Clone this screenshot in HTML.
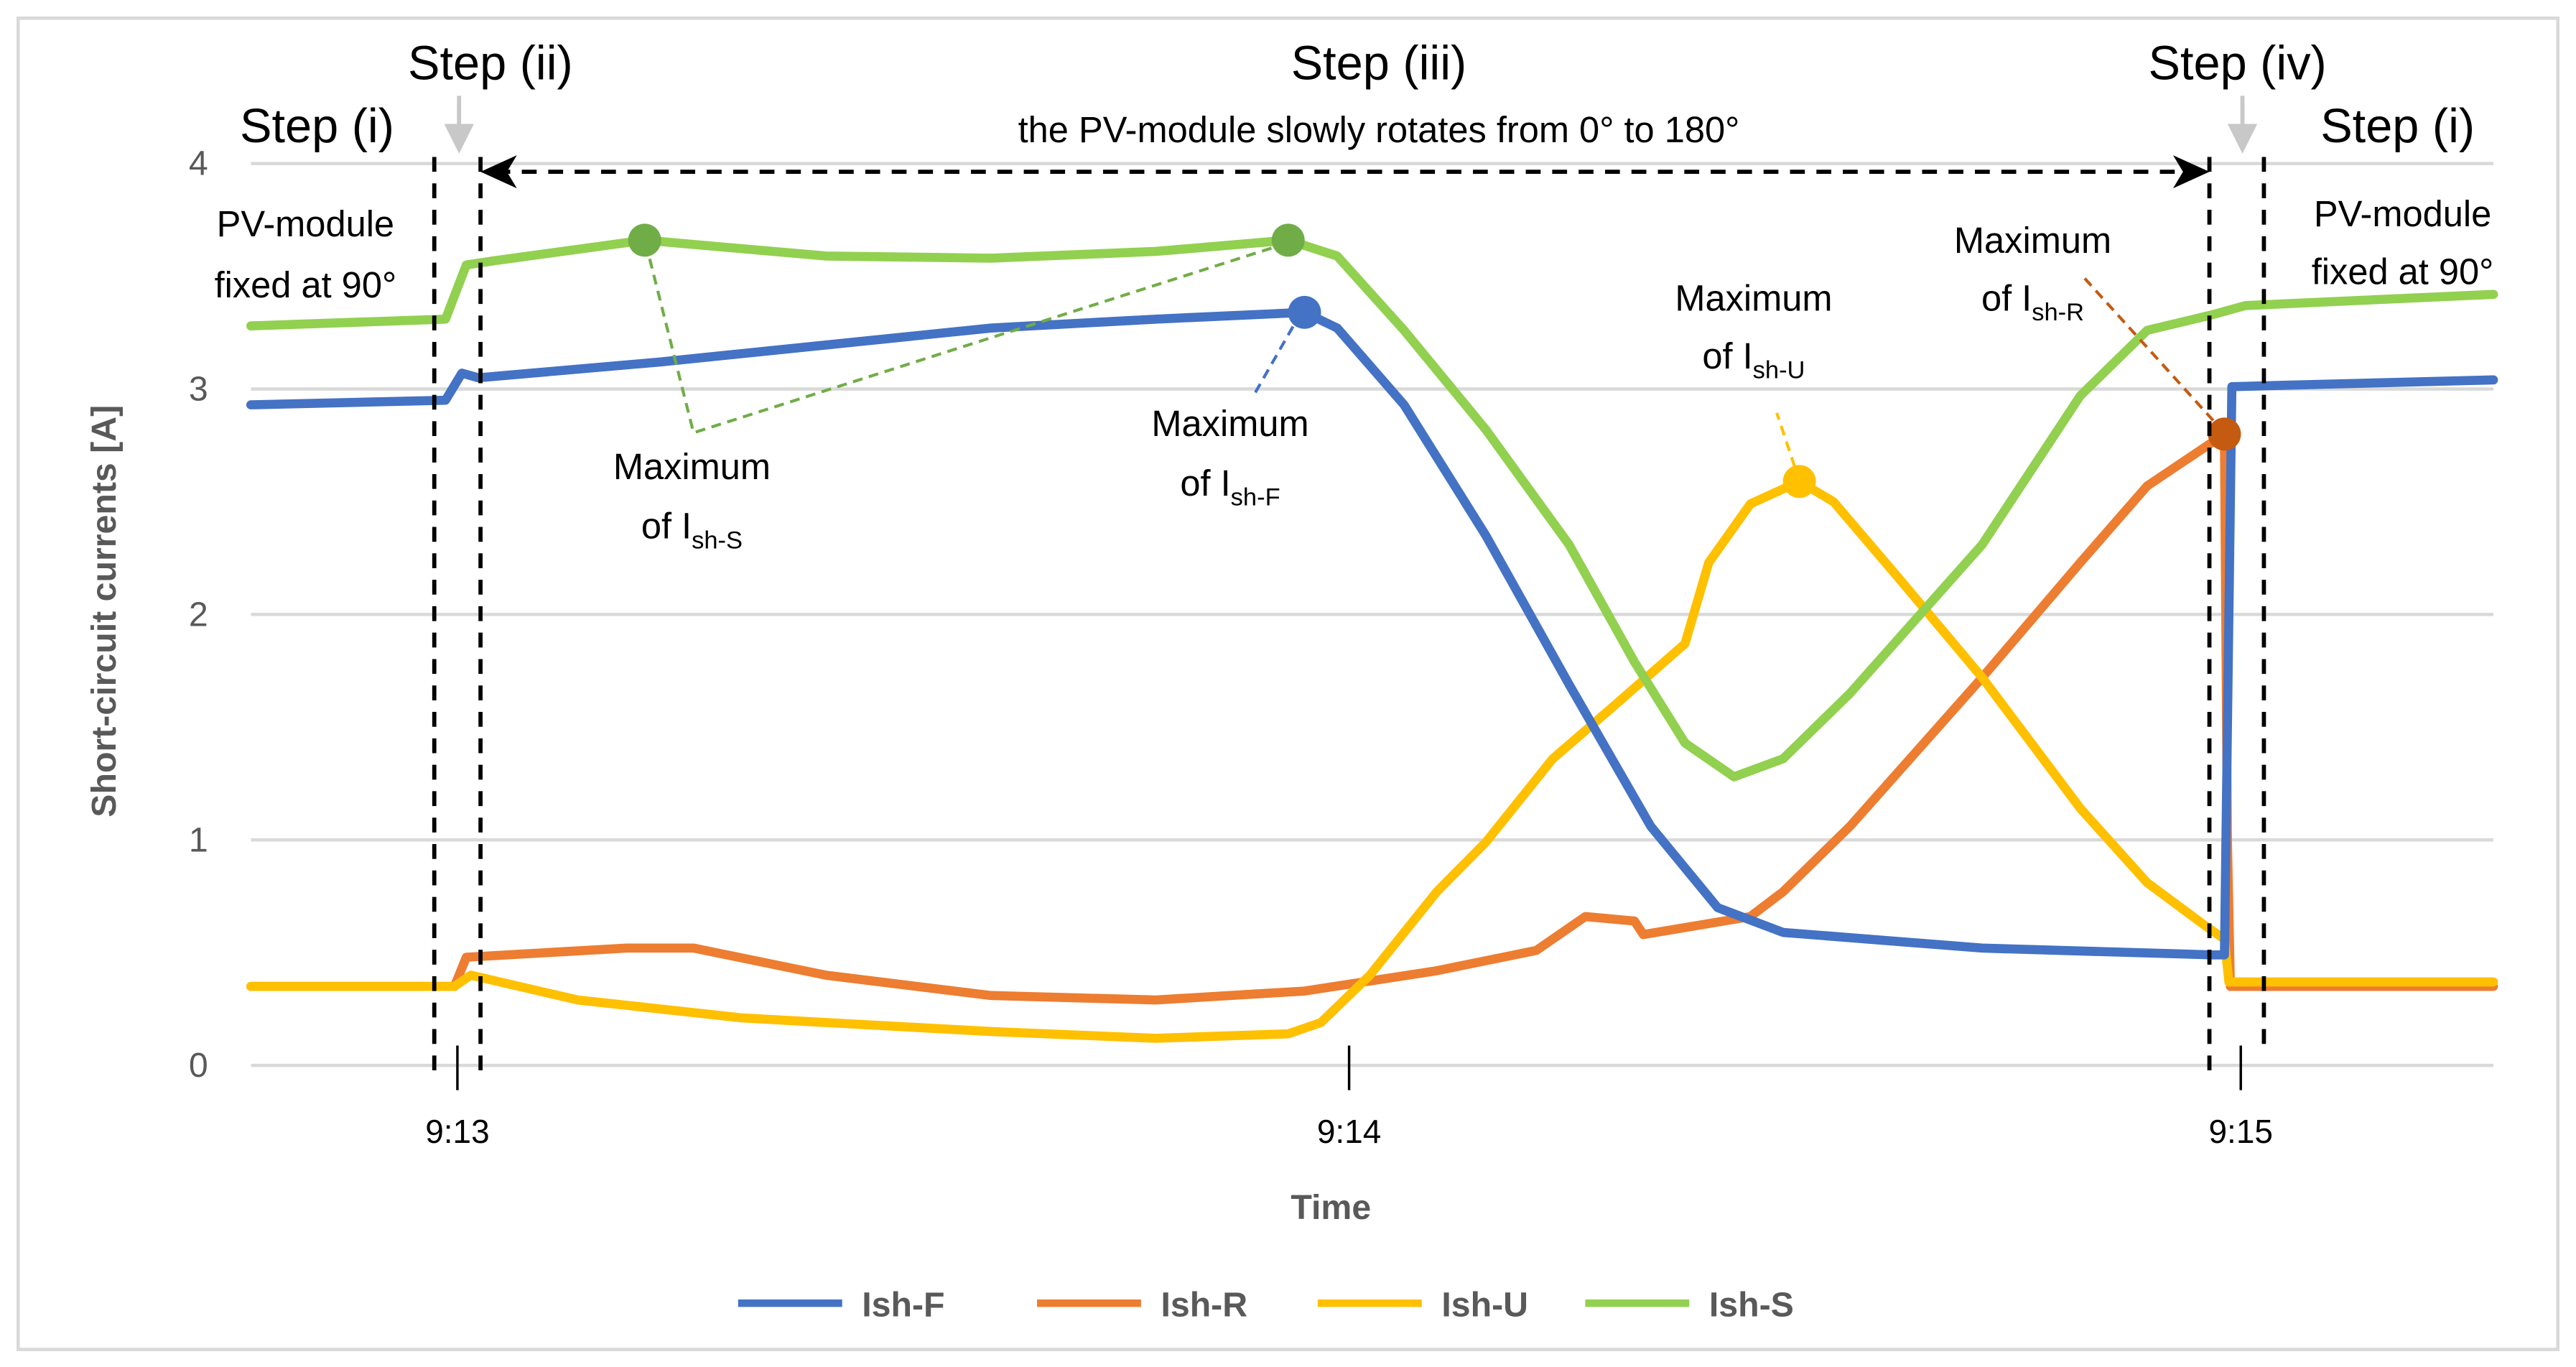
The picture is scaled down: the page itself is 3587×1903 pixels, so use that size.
<!DOCTYPE html>
<html><head><meta charset="utf-8"><style>
html,body{margin:0;padding:0;background:#fff;}
svg{display:block;font-family:"Liberation Sans",sans-serif;}
</style></head><body>
<svg id="chart" width="3587" height="1903" viewBox="0 0 1560 827.6" xmlns="http://www.w3.org/2000/svg">
<rect x="11" y="11" width="1538" height="806" fill="#fff" stroke="#d9d9d9" stroke-width="2"/>
<g id="grid"></g>
<g id="yticks" font-size="21" fill="#595959" text-anchor="end"></g>
<g id="xticks" font-size="20" fill="#000" text-anchor="middle"></g>
<text transform="translate(70,370) rotate(-90)" text-anchor="middle" font-size="21" font-weight="bold" fill="#595959">Short-circuit currents [A]</text>
<text x="806" y="738" text-anchor="middle" font-size="21" font-weight="bold" fill="#595959">Time</text>
<g id="series"></g>
<g id="annot" font-size="22" fill="#000" text-anchor="middle">
 <line x1="263" y1="95" x2="263" y2="652" stroke="#000" stroke-width="2.5" stroke-dasharray="9,7"/>
 <line x1="291" y1="95" x2="291" y2="652" stroke="#000" stroke-width="2.5" stroke-dasharray="9,7"/>
 <line x1="1338" y1="95" x2="1338" y2="652" stroke="#000" stroke-width="2.5" stroke-dasharray="9,7"/>
 <line x1="1371" y1="95" x2="1371" y2="632" stroke="#000" stroke-width="2.5" stroke-dasharray="9,7"/>
 <line x1="300" y1="104" x2="1330" y2="104" stroke="#000" stroke-width="2.5" stroke-dasharray="9,7"/>
 <polygon points="291,104 313,94 307,104 313,114" fill="#000"/>
 <polygon points="1338,104 1316,94 1322,104 1316,114" fill="#000"/>
 <line x1="278" y1="58" x2="278" y2="78" stroke="#c8c8c8" stroke-width="2.5"/>
 <polygon points="269,75 287,75 278,93" fill="#c8c8c8"/>
 <line x1="1358" y1="58" x2="1358" y2="78" stroke="#c8c8c8" stroke-width="2.5"/>
 <polygon points="1349,75 1367,75 1358,93" fill="#c8c8c8"/>
 <text x="192" y="86" font-size="29">Step (i)</text>
 <text x="297" y="48" font-size="29">Step (ii)</text>
 <text x="835" y="48" font-size="29">Step (iii)</text>
 <text x="835" y="86" font-size="22">the PV-module slowly rotates from 0° to 180°</text>
 <text x="1355" y="48" font-size="29">Step (iv)</text>
 <text x="1452" y="86" font-size="29">Step (i)</text>
 <text x="185" y="143">PV-module</text>
 <text x="185" y="180">fixed at 90°</text>
 <text x="1455" y="137">PV-module</text>
 <text x="1455" y="172">fixed at 90°</text>
 <polyline points="391,147 420,262 780,147" fill="none" stroke="#70ad47" stroke-width="1.8" stroke-dasharray="6,4"/>
 <text x="419" y="290">Maximum</text>
 <text x="419" y="326">of I<tspan font-size="15" dy="6">sh-S</tspan></text>
 <line x1="788" y1="189" x2="760" y2="238" stroke="#4472c4" stroke-width="1.8" stroke-dasharray="6,4"/>
 <text x="745" y="264">Maximum</text>
 <text x="745" y="300">of I<tspan font-size="15" dy="6">sh-F</tspan></text>
 <line x1="1090" y1="292" x2="1076" y2="250" stroke="#ffc000" stroke-width="1.8" stroke-dasharray="6,4"/>
 <text x="1062" y="188">Maximum</text>
 <text x="1062" y="223">of I<tspan font-size="15" dy="6">sh-U</tspan></text>
 <line x1="1347" y1="262" x2="1262" y2="168" stroke="#c55a11" stroke-width="1.8" stroke-dasharray="6,4"/>
 <text x="1231" y="153">Maximum</text>
 <text x="1231" y="188">of I<tspan font-size="15" dy="6">sh-R</tspan></text>
</g>
<g id="legend" font-size="21" font-weight="bold" fill="#595959"></g>
</svg>
<script>
// time in seconds relative to 9:13
var yTicks = [0, 1, 2, 3, 4];
var xTickTimes = [0, 60, 120];
var xTickLabels = ["9:13", "9:14", "9:15"];
var seriesNames = ["Ish-F", "Ish-R", "Ish-U", "Ish-S"];
var seriesColors = ["#4472c4", "#ed7d31", "#ffc000", "#92d050"];
var fT = [-13.9,-0.8,0.3,1.4,13.7,35.9,47,57,59.2,63.7,69.2,74.8,80.3,84.8,89.2,102.6,118.1,118.9,119.4,124.8,137];
var fV = [2.93,2.95,3.07,3.05,3.12,3.27,3.31,3.34,3.27,2.93,2.35,1.69,1.06,0.70,0.59,0.52,0.49,0.49,3.01,3.02,3.04];
var rT = [-13.9,-0.2,0.6,11.4,15.9,24.8,35.9,47,57,65.9,72.6,75.9,79.2,79.8,87,89.2,93.7,102.6,109.2,113.7,118.9,119.1,119.3,137];
var rV = [0.35,0.35,0.48,0.52,0.52,0.40,0.31,0.29,0.33,0.42,0.51,0.66,0.64,0.58,0.66,0.77,1.06,1.72,2.23,2.57,2.80,1.0,0.35,0.35];
var uT = [-13.9,-0.2,0.9,8.1,19.2,35.9,47,55.9,58.1,61.4,65.9,69.2,73.7,78.1,82.6,84.2,87,90.3,92.6,97,102.6,109.2,113.7,117.6,118.9,119.2,137];
var uV = [0.35,0.35,0.40,0.29,0.21,0.15,0.12,0.14,0.19,0.40,0.77,0.99,1.36,1.61,1.87,2.23,2.49,2.59,2.50,2.16,1.72,1.14,0.81,0.62,0.56,0.37,0.37];
var sT = [-13.9,-0.8,0.6,2.6,12.6,24.8,35.9,47,55.9,59.2,63.7,69.2,74.8,79.2,82.6,85.9,89.2,93.7,102.6,109.2,113.7,118.1,120.3,137];
var sV = [3.28,3.31,3.55,3.57,3.66,3.59,3.58,3.61,3.66,3.59,3.26,2.82,2.31,1.79,1.43,1.28,1.36,1.65,2.31,2.97,3.26,3.33,3.37,3.42];
var seriesT = [fT, rT, uT, sT];
var seriesV = [fV, rV, uV, sV];
// markers: [series index, point index]
var markerSeries = [3, 3, 0, 2, 1];
var markerIndex = [4, 8, 7, 17, 20];
var markerColors = ["#70ad47", "#70ad47", "#4472c4", "#ffc000", "#c55a11"];

var NS = "http://www.w3.org/2000/svg";
var X0 = 152, X1 = 1510, Y0 = 645, Y4 = 99;
function xs(t){ return 277 + t * 9; }
function ys(v){ return Y0 - v * (Y0 - Y4) / 4; }
function mk(tag, attrs, parent){ var e = document.createElementNS(NS, tag); for (var k in attrs) e.setAttribute(k, attrs[k]); parent.appendChild(e); return e; }

var grid = document.getElementById("grid"), ytk = document.getElementById("yticks"), xtk = document.getElementById("xticks");
yTicks.forEach(function(v){
  var l = mk("line", {x1:X0, x2:X1, y1:ys(v), y2:ys(v), stroke:"#d9d9d9", "stroke-width":2}, grid);
  
  
  var t = mk("text", {x:126, y:ys(v)+7}, ytk); t.textContent = v;
  
  
});
xTickTimes.forEach(function(tt, i){
  var l = mk("line", {x1:xs(tt), x2:xs(tt), y1:633, y2:660, stroke:"#000", "stroke-width":1.5}, grid);
  
  
  var t = mk("text", {x:xs(tt), y:692}, xtk); t.textContent = xTickLabels[i];
  
  
});
var sg = document.getElementById("series");
[1,2,0,3].forEach(function(si){
  var pts = seriesT[si].map(function(t, j){ return xs(t).toFixed(1) + "," + ys(seriesV[si][j]).toFixed(1); }).join(" ");
  var p = mk("polyline", {points:pts, fill:"none", stroke:seriesColors[si], "stroke-width":5.5, "stroke-linejoin":"round", "stroke-linecap":"round"}, sg);
  
  
});
markerSeries.forEach(function(si, k){
  var j = markerIndex[k];
  var c = mk("circle", {cx:xs(seriesT[si][j]), cy:ys(seriesV[si][j]), r:10, fill:markerColors[k]}, sg);
  
  
});
var lg = document.getElementById("legend");
var lx = [447, 628, 798, 960];
seriesNames.forEach(function(n, i){
  var l = mk("line", {x1:lx[i], x2:lx[i]+63, y1:789, y2:789, stroke:seriesColors[i], "stroke-width":4.5}, lg);
  
  
  var t = mk("text", {x:lx[i]+75, y:797}, lg); t.textContent = n;
  
  
});
</script>
</body></html>
